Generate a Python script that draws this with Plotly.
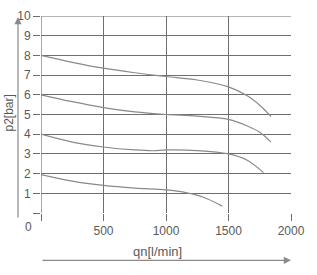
import plotly.graph_objects as go

q1 = [0, 250, 500, 750, 1000, 1250, 1500, 1650, 1750, 1840]
p1 = [8.0, 7.65, 7.35, 7.12, 6.93, 6.75, 6.4, 5.95, 5.47, 4.9]
q2 = [0, 250, 500, 750, 1000, 1250, 1500, 1650, 1750, 1840]
p2 = [6.0, 5.65, 5.35, 5.13, 5.0, 4.92, 4.75, 4.42, 4.1, 3.6]
q3 = [0, 250, 500, 750, 900, 1000, 1250, 1500, 1650, 1780]
p3 = [4.0, 3.6, 3.35, 3.2, 3.16, 3.2, 3.17, 3.0, 2.68, 2.05]
q4 = [0, 250, 500, 750, 1000, 1150, 1300, 1450]
p4 = [1.95, 1.62, 1.4, 1.26, 1.17, 1.05, 0.8, 0.35]

x_ticks = [0, 500, 1000, 1500, 2000]
x_labels = ["0", "500", "1000", "1500", "2000"]
y_ticks = [0, 1, 2, 3, 4, 5, 6, 7, 8, 9, 10]
y_labels = ["", "1", "2", "3", "4", "5", "6", "7", "8", "9", "10"]

GRID = "#6e6e6e"
CURVE = "#8a8a8a"
TXT = "#5a5a5a"
FONT = "Liberation Sans, Arial, sans-serif"

fig = go.Figure()
for q, p in [(q1, p1), (q2, p2), (q3, p3), (q4, p4)]:
    fig.add_trace(go.Scatter(x=q, y=p, mode="lines",
                             line=dict(color=CURVE, width=1.2, shape="spline", smoothing=1.0),
                             hoverinfo="skip", showlegend=False))

W, H = 317, 275
L, R, T, B = 41, 26, 9, 62
pw, ph = W - L - R, H - T - B

def px_x(px):
    return (px - L) / pw

def px_y(py):
    return (H - B - py) / ph

fig.update_layout(
    width=W, height=H,
    margin=dict(l=L, r=R, t=T, b=B, pad=0),
    plot_bgcolor="white", paper_bgcolor="white",
    font=dict(family=FONT, size=12, color=TXT),
    xaxis=dict(range=[0, 2000], tickvals=x_ticks,
               ticktext=[""] + x_labels[1:],
               showgrid=True, gridcolor=GRID, gridwidth=1.2,
               ticks="outside", ticklen=7, tickcolor=GRID, tickwidth=1.2,
               zeroline=False, showline=False, fixedrange=True,
               tickfont=dict(size=12, color=TXT)),
    yaxis=dict(range=[0, 10], tickvals=y_ticks, ticktext=y_labels,
               showgrid=True, gridcolor=GRID, gridwidth=1.2,
               ticks="outside", ticklen=7, tickcolor=GRID, tickwidth=1.2,
               zeroline=False, showline=False, fixedrange=True,
               tickfont=dict(size=12, color=TXT)),
)

# edge grid lines that plotly omits
fig.add_shape(type="line", xref="x", yref="y", x0=0, x1=0, y0=0, y1=10,
              line=dict(color=GRID, width=1.2), layer="below")
fig.add_shape(type="line", xref="x", yref="y", x0=0, x1=2000, y0=10, y1=10,
              line=dict(color=GRID, width=1.2), layer="below")

# "0" x tick label placed left of axis
fig.add_annotation(x=px_x(28), y=px_y(228), xref="paper", yref="paper",
                   xanchor="center", yanchor="middle",
                   text=x_labels[0], showarrow=False,
                   font=dict(size=12, color=TXT, family=FONT))

# y axis arrow
fig.add_annotation(x=px_x(18), y=px_y(10), xref="paper", yref="paper",
                   ax=0, ay=202, axref="pixel", ayref="pixel",
                   text="", showarrow=True, arrowhead=2, arrowsize=1.2,
                   arrowwidth=1.2, arrowcolor="#8a8a8a")
# x axis arrow
fig.add_annotation(x=px_x(291), y=px_y(262), xref="paper", yref="paper",
                   ax=-250, ay=0, axref="pixel", ayref="pixel",
                   text="", showarrow=True, arrowhead=2, arrowsize=1.2,
                   arrowwidth=1.2, arrowcolor="#8a8a8a")

fig.add_annotation(x=px_x(9), y=px_y(110), xref="paper", yref="paper",
                   xanchor="center", yanchor="middle",
                   text="p2[bar]", textangle=-90, showarrow=False,
                   font=dict(size=12, color=TXT, family=FONT))
fig.add_annotation(x=px_x(157), y=px_y(253), xref="paper", yref="paper",
                   xanchor="center", yanchor="middle",
                   text="qn[l/min]", showarrow=False,
                   font=dict(size=13, color=TXT, family=FONT))

fig.write_html("out.html")
